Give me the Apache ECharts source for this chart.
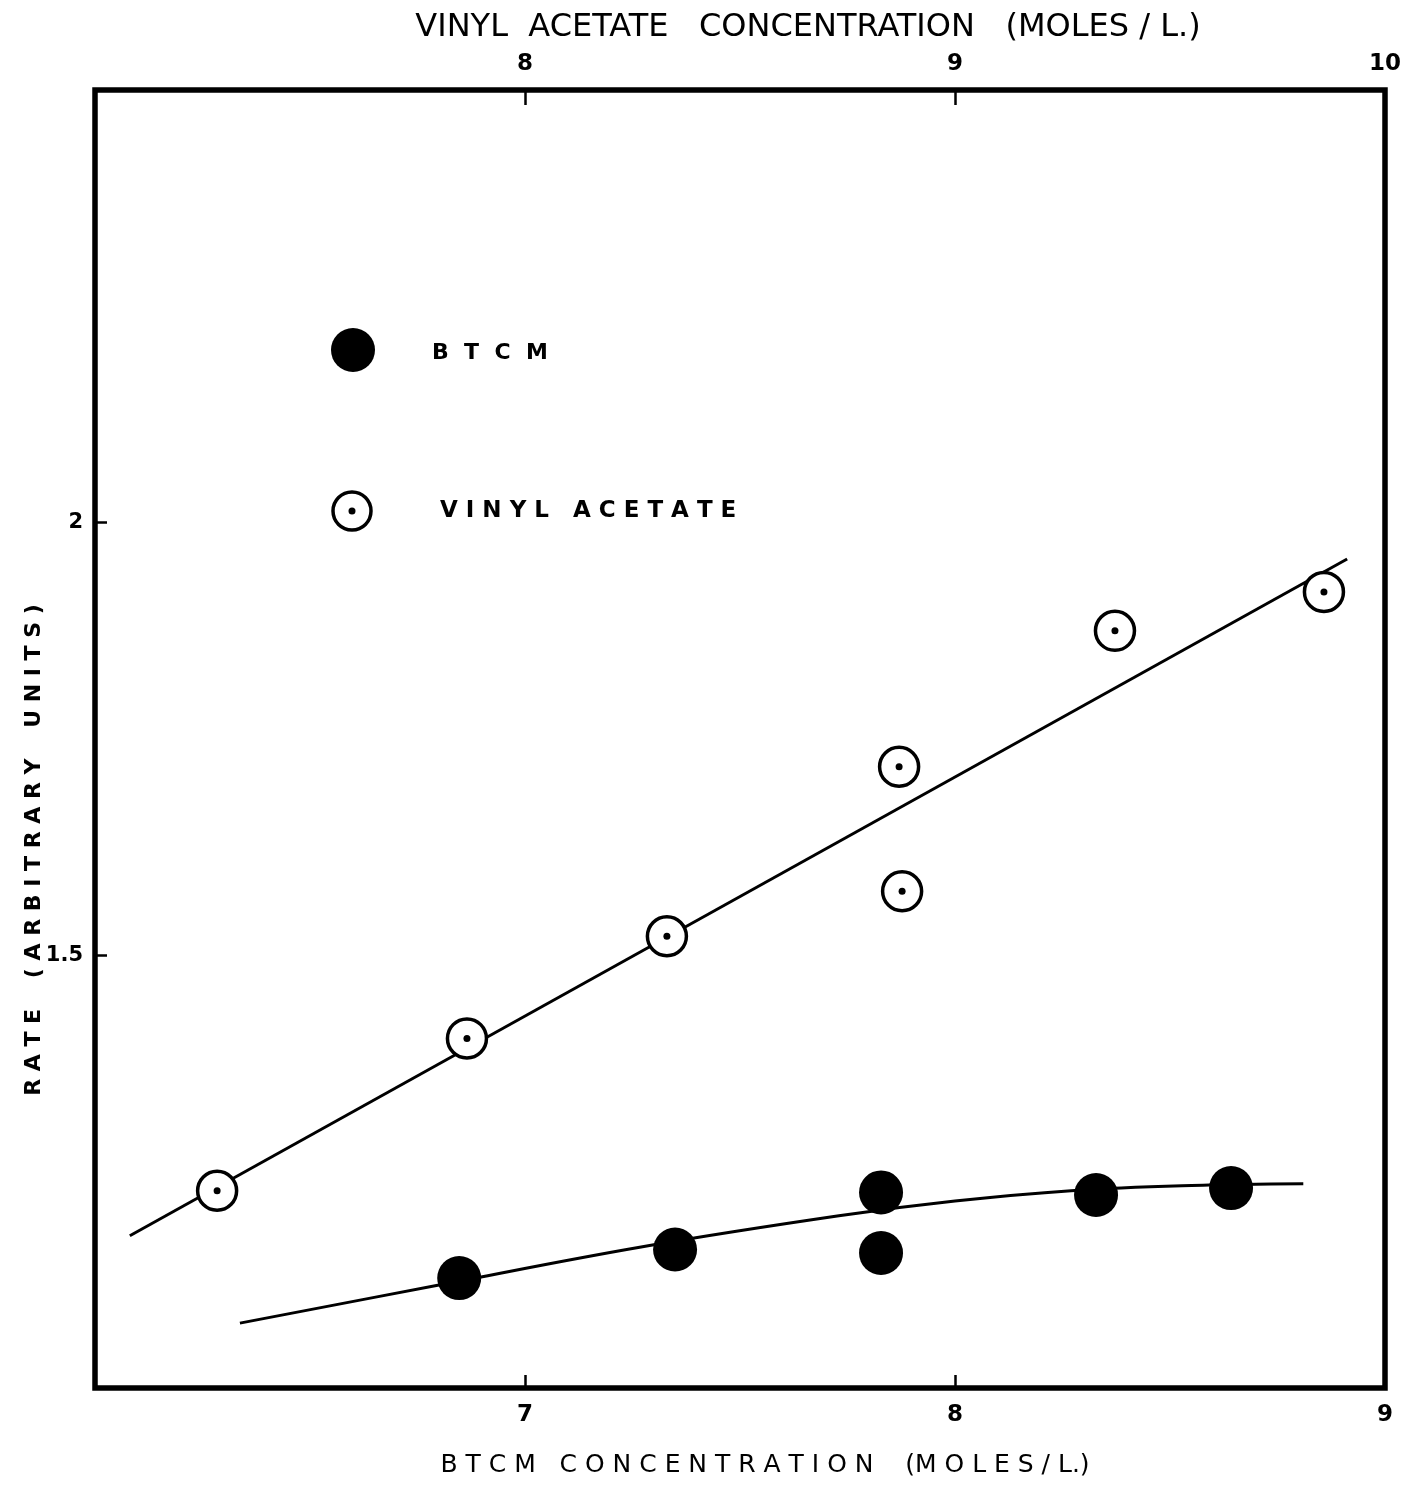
<!DOCTYPE html>
<html><head><meta charset="utf-8">
<script src="https://cdn.jsdelivr.net/npm/echarts@6/dist/echarts.min.js"></script>
<style>html,body{margin:0;padding:0;background:#fff}#c{width:1409px;height:1489px}</style>
</head><body><div id="c"></div>
<script>
// Bottom axis: BTCM concentration (moles/L)
const btcmX = [6.847, 7.349, 7.828, 7.828, 8.328, 8.642];
const btcmRate = [1.127, 1.160, 1.226, 1.156, 1.223, 1.231];
// BTCM fitted curve
const btcmCurveX = [6.337, 6.80, 7.27, 7.73, 8.00, 8.27, 8.55, 8.81];
const btcmCurveY = [1.075, 1.119, 1.163, 1.199, 1.216, 1.228, 1.234, 1.236];
// Top axis: vinyl acetate concentration (moles/L)
const vaX = [7.284, 7.865, 8.330, 8.870, 8.877, 9.372, 9.858];
const vaRate = [1.228, 1.404, 1.522, 1.718, 1.574, 1.875, 1.920];
// Vinyl acetate fitted line
const vaLineX = [7.081, 9.912];
const vaLineY = [1.176, 1.958];
// tick labels shown
const bottomTicks = [7, 8, 9];
const topTicks = [8, 9, 10];
const yTicks = [1.5, 2];

const zip = (a, b) => a.map((v, i) => [v, b[i]]);
const font = '"DejaVu Sans"';
const chart = echarts.init(document.getElementById('c'));
const lbl = (list) => (v) => list.some(t => Math.abs(t - v) < 1e-6) ? String(v) : '';

chart.setOption({
  backgroundColor: '#fff',
  animation: false,
  grid: { left: 95, right: 24, top: 90, bottom: 101, show: true, borderColor: '#000', borderWidth: 5.5, backgroundColor: 'transparent' },
  xAxis: [
    { type: 'value', position: 'bottom', min: 6, max: 9, interval: 1,
      axisLine: { show: false }, splitLine: { show: false },
      axisTick: { show: true, inside: true, length: 13, lineStyle: { color: '#000', width: 2.5 } },
      axisLabel: { margin: 16, color: '#000', fontFamily: font, fontWeight: 'bold', fontSize: 23, formatter: lbl(bottomTicks) } },
    { type: 'value', position: 'top', min: 7, max: 10, interval: 1,
      axisLine: { show: false }, splitLine: { show: false },
      axisTick: { show: true, inside: true, length: 15, lineStyle: { color: '#000', width: 2.5 } },
      axisLabel: { margin: 14, color: '#000', fontFamily: font, fontWeight: 'bold', fontSize: 23, formatter: lbl(topTicks) } }
  ],
  yAxis: [
    { type: 'value', min: 1, max: 2.5, interval: 0.5,
      axisLine: { show: false }, splitLine: { show: false },
      axisTick: { show: true, inside: true, length: 12, lineStyle: { color: '#000', width: 2.5 } },
      axisLabel: { margin: 12, color: '#000', fontFamily: font, fontWeight: 'bold', fontSize: 21, formatter: lbl(yTicks) } }
  ],
  series: [
    { type: 'line', xAxisIndex: 1, data: zip(vaLineX, vaLineY), showSymbol: false, symbol: 'none',
      lineStyle: { color: '#000', width: 3 }, z: 2 },
    { type: 'line', xAxisIndex: 0, data: zip(btcmCurveX, btcmCurveY), showSymbol: false, symbol: 'none', smooth: 0.4,
      lineStyle: { color: '#000', width: 3 }, z: 2 },
    { name: 'VINYL ACETATE', type: 'scatter', xAxisIndex: 1, data: zip(vaX, vaRate), symbol: 'circle', symbolSize: 39,
      itemStyle: { color: '#fff', borderColor: '#000', borderWidth: 3.5, opacity: 1 }, z: 3 },
    { type: 'scatter', xAxisIndex: 1, data: zip(vaX, vaRate), symbol: 'circle', symbolSize: 7,
      itemStyle: { color: '#000', opacity: 1 }, z: 4 },
    { name: 'BTCM', type: 'scatter', xAxisIndex: 0, data: zip(btcmX, btcmRate), symbol: 'circle', symbolSize: 44,
      itemStyle: { color: '#000', opacity: 1 }, z: 3 }
  ],
  graphic: [
    { type: 'text', style: { x: 808, y: 28, text: 'VINYL  ACETATE   CONCENTRATION   (MOLES / L.)', font: '32px ' + font, fill: '#000', textAlign: 'center', textVerticalAlign: 'middle' } },
    { type: 'text', style: { x: 765, y: 1465, text: 'B T C M   C O N C E N T R A T I O N    (M O L E S / L.)', font: '25px ' + font, fill: '#000', textAlign: 'center', textVerticalAlign: 'middle' } },
    { type: 'text', x: 34, y: 850, rotation: Math.PI / 2, style: { x: 0, y: 0, text: 'R A T E    ( A R B I T R A R Y    U N I T S )', font: 'bold 22px ' + font, fill: '#000', textAlign: 'center', textVerticalAlign: 'middle' } },
    // legend
    { type: 'circle', shape: { cx: 353, cy: 350, r: 22 }, style: { fill: '#000' } },
    { type: 'text', style: { x: 432, y: 353, text: 'B  T  C  M', font: 'bold 22px ' + font, fill: '#000', textVerticalAlign: 'middle' } },
    { type: 'circle', shape: { cx: 352, cy: 511, r: 19 }, style: { fill: '#fff', stroke: '#000', lineWidth: 3.5 } },
    { type: 'circle', shape: { cx: 352, cy: 511, r: 3.5 }, style: { fill: '#000' } },
    { type: 'text', style: { x: 440, y: 511, text: 'V I N Y L   A C E T A T E', font: 'bold 23px ' + font, fill: '#000', textVerticalAlign: 'middle' } }
  ]
});
</script></body></html>
